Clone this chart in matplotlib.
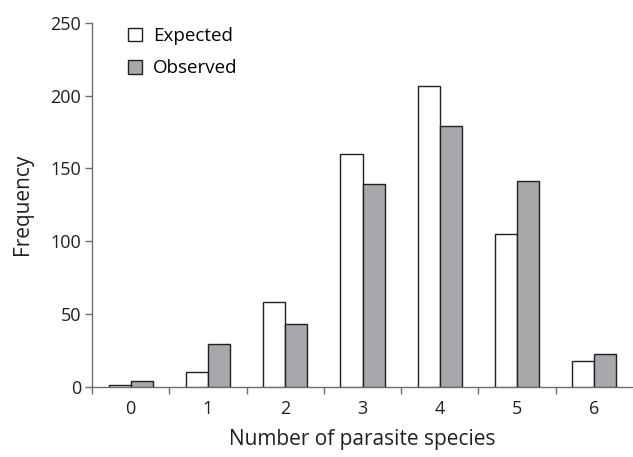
import numpy as np
import matplotlib.pyplot as plt

# Datos.
especies = [0, 1, 2, 3, 4, 5, 6]
esperado = [1, 10, 58, 160, 207, 105, 17.5]
observado = [4, 29, 43, 139, 179, 141, 22.5]

plt.rcParams['font.family'] = ['Open Sans', 'DejaVu Sans']

fig = plt.figure(figsize=(6.33, 4.57), dpi=100)
ax = fig.add_axes([92/633, 1 - 386.5/457, 541/633, (386.5 - 23)/457])

x = np.array(especies)
ancho = 0.285
borde = '#231f20'
ax.bar(x - ancho/2, esperado, ancho, color='white', edgecolor=borde,
       linewidth=1, label='Expected', zorder=3)
ax.bar(x + ancho/2, observado, ancho, color='#a7a8ab', edgecolor=borde,
       linewidth=1, label='Observed', zorder=3)

ax.set_xlim(-0.5, 6.5)
ax.set_ylim(0, 250)
ax.set_yticks([0, 50, 100, 150, 200, 250])
ax.set_xticks(x)
ax.set_xticks(np.arange(-0.5, 6, 1), minor=True)
ax.tick_params(axis='x', which='major', length=0, pad=10, labelsize=13,
               colors='#231f20')
ax.tick_params(axis='x', which='minor', length=5, width=1, color='#6d6e71')
ax.tick_params(axis='y', length=5, width=1, color='#6d6e71', labelsize=13,
               labelcolor='#231f20', pad=3)

for s in ['top', 'right']:
    ax.spines[s].set_visible(False)
for s in ['left', 'bottom']:
    ax.spines[s].set_color('#6d6e71')
    ax.spines[s].set_linewidth(1)

ax.set_xlabel('Number of parasite species', fontsize=15, color='#231f20',
              labelpad=8)
ax.set_ylabel('Frequency', fontsize=15, color='#231f20', labelpad=12)

ax.legend(loc='upper left', bbox_to_anchor=(0.035, 1.035), frameon=False,
          fontsize=13.5, handlelength=0.75, handleheight=0.75,
          handletextpad=0.6, labelspacing=0.75)

fig.savefig('out.png', dpi=100)
